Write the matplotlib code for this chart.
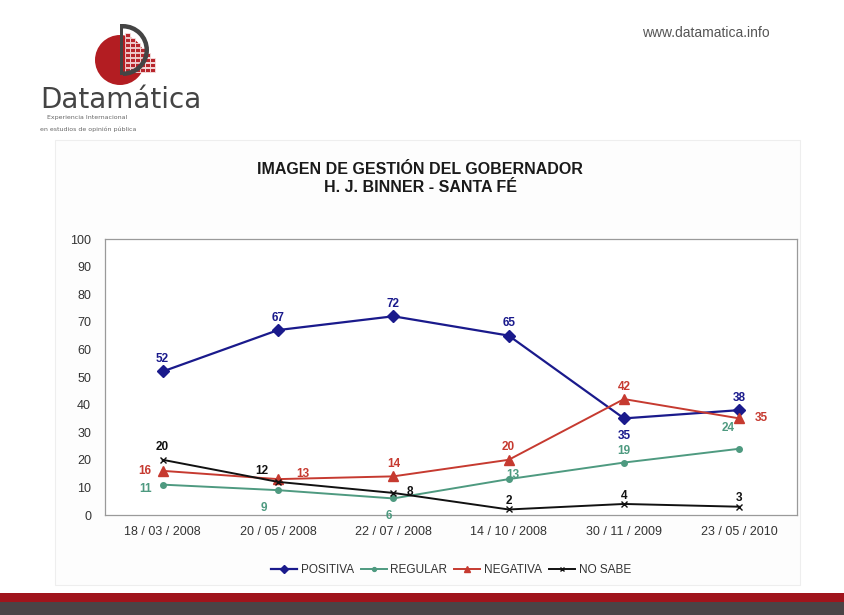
import matplotlib.pyplot as plt
from matplotlib.patches import Circle, Rectangle, Wedge
import numpy as np

fechas = ["18 / 03 / 2008", "20 / 05 / 2008", "22 / 07 / 2008",
          "14 / 10 / 2008", "30 / 11 / 2009", "23 / 05 / 2010"]
positiva = [52, 67, 72, 65, 35, 38]
regular = [11, 9, 6, 13, 19, 24]
negativa = [16, 13, 14, 20, 42, 35]
no_sabe = [20, 12, 8, 2, 4, 3]

# label offsets (points) for each value, per series
off_pos = [(0, 9), (0, 9), (0, 9), (0, 9), (0, -13), (0, 9)]
off_reg = [(-12, -3), (-10, -13), (-3, -13), (3, 3), (0, 8), (-8, 15)]
off_neg = [(-13, 0), (18, 4), (0, 9), (0, 9), (0, 9), (16, 0)]
off_ns = [(0, 9), (-12, 8), (12, 1), (0, 6), (0, 6), (0, 6)]

c_pos = "#1a1a8c"
c_reg = "#4e9a80"
c_neg = "#c63a30"
c_ns = "#111111"

fig = plt.figure(figsize=(8.44, 6.15), dpi=100)
fig.patch.set_facecolor("white")
px = fig.dpi_scale_trans  # coordinates in inches = pixels / 100


def P(x, y):
    return (x / 100, (615 - y) / 100)


# chart panel
fig.patches.append(Rectangle(P(55, 585), 7.45, 4.45, transform=px,
                             facecolor="#fdfdfd", edgecolor="#eeeeee",
                             lw=0.8, zorder=0))

ax = fig.add_axes([105 / 844, 100 / 615, 692 / 844, 276 / 615])
ax.set_zorder(2)
x = np.arange(len(fechas))

ax.plot(x, positiva, color=c_pos, marker="D", ms=6, lw=1.6, label="POSITIVA")
ax.plot(x, regular, color=c_reg, marker="o", ms=4, lw=1.4, label="REGULAR")
ax.plot(x, negativa, color=c_neg, marker="^", ms=7, lw=1.4, label="NEGATIVA")
ax.plot(x, no_sabe, color=c_ns, marker="x", ms=5, lw=1.4, label="NO SABE")

for vals, offs, col in [(positiva, off_pos, c_pos), (regular, off_reg, c_reg),
                        (negativa, off_neg, c_neg), (no_sabe, off_ns, c_ns)]:
    for i, v in enumerate(vals):
        ax.annotate(str(v), (x[i], v), xytext=offs[i], textcoords="offset points",
                    ha="center", va="center", color=col, fontsize=8.5,
                    fontweight="bold", family="Liberation Sans")

ax.set_xlim(-0.5, len(fechas) - 0.5)
ax.set_ylim(0, 100)
ax.set_yticks(range(0, 101, 10))
ax.set_xticks(x)
ax.set_xticklabels(fechas)
ax.tick_params(length=0, labelsize=9, colors="#333333", pad=8)
ax.tick_params(axis="y", pad=10)
for lab in ax.get_xticklabels() + ax.get_yticklabels():
    lab.set_family("Liberation Sans")
for s in ax.spines.values():
    s.set_color("#9a9a9a")
    s.set_linewidth(0.9)
ax.set_facecolor("white")

leg = ax.legend(loc="upper center", bbox_to_anchor=(0.5, -0.14), ncol=4,
                frameon=False, handlelength=2.2, markerscale=0.7,
                columnspacing=0.6, handletextpad=0.3,
                prop={"family": "Liberation Sans", "size": 8.5})
for t in leg.get_texts():
    t.set_color("#333333")

fig.text(420 / 844, 1 - 170 / 615, "IMAGEN DE GESTIÓN DEL GOBERNADOR",
         ha="center", va="center", fontsize=11.5, fontweight="bold",
         family="Liberation Sans", color="#1a1a1a")
fig.text(420 / 844, 1 - 188 / 615, "H. J. BINNER - SANTA FÉ",
         ha="center", va="center", fontsize=11.5, fontweight="bold",
         family="Liberation Sans", color="#1a1a1a")

fig.text(770 / 844, 1 - 33 / 615, "www.datamatica.info", ha="right",
         va="center", fontsize=10, family="Liberation Sans", color="#555555")

# logo
fig.patches.append(Circle(P(120, 60), 0.25, transform=px,
                          facecolor="#b31d22", edgecolor="none"))
for i in range(6):
    for j in range(8 - i):
        fig.patches.append(Rectangle(P(125 + i * 5, 72 - j * 5), 0.045, 0.045,
                                     transform=px, facecolor="#b8262c",
                                     edgecolor="#f6e3e3", lw=0.6))
fig.patches.append(Rectangle(P(120, 75), 0.035, 0.50, transform=px,
                             facecolor="#444444", edgecolor="none"))
fig.patches.append(Wedge(P(123, 50), 0.26, -90, 90, width=0.045,
                         transform=px, facecolor="#444444", edgecolor="none"))
fig.patches.append(Rectangle(P(120, 27), 0.04, 0.03, transform=px,
                             facecolor="#444444", edgecolor="none"))
fig.text(40 / 844, 1 - 100 / 615, "Datamática", ha="left", va="center",
         fontsize=20, family="DejaVu Sans", color="#444444")
fig.text(47 / 844, 1 - 118 / 615, "Experiencia Internacional", ha="left",
         va="center", fontsize=4.5, color="#666666")
fig.text(40 / 844, 1 - 129 / 615, "en estudios de opinión pública", ha="left",
         va="center", fontsize=4.5, color="#666666")

# bottom bands
fig.patches.append(Rectangle(P(0, 602), 8.44, 0.09, transform=px,
                             facecolor="#a0141c", edgecolor="none"))
fig.patches.append(Rectangle(P(0, 615), 8.44, 0.13, transform=px,
                             facecolor="#4a4346", edgecolor="none"))

fig.savefig("out.png", dpi=100)
